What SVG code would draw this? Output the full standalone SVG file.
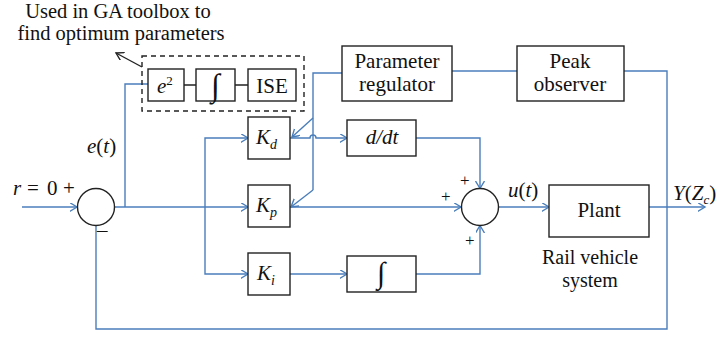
<svg xmlns="http://www.w3.org/2000/svg" width="722" height="337" viewBox="0 0 722 337">
<style>
.box{fill:#fff;stroke:#222;stroke-width:1.4}
.w{fill:none;stroke:#4a7ebb;stroke-width:1.4}
.k{fill:none;stroke:#222;stroke-width:1.4}
.m{font-style:italic}
.c{text-anchor:middle}
</style>
<defs>
<marker id="a" markerUnits="userSpaceOnUse" markerWidth="10" markerHeight="10" refX="7.5" refY="4.5" orient="auto">
<path d="M0,0 L7.5,4.5 L0,9" fill="none" stroke="#4a7ebb" stroke-width="1.4"/>
</marker>
<marker id="ak" markerUnits="userSpaceOnUse" markerWidth="10" markerHeight="10" refX="7.5" refY="4.5" orient="auto">
<path d="M0,0 L7.5,4.5 L0,9" fill="none" stroke="#222" stroke-width="1.4"/>
</marker>
</defs>
<rect width="722" height="337" fill="#fff"/>

<g id="connectors">
<path class="w" d="M22,207 H77" marker-end="url(#a)"/>
<path class="w" d="M114.5,207 H248" marker-end="url(#a)"/>
<path class="w" d="M125,207 V84 H148"/>
<path class="w" d="M205,207 V138 H248" marker-end="url(#a)"/>
<path class="w" d="M205,207 V274 H248" marker-end="url(#a)"/>
<path class="w" d="M290,138 H310 A3,3 0 0 1 316,138 H347" marker-end="url(#a)"/>
<path class="w" d="M290,207 H461" marker-end="url(#a)"/>
<path class="w" d="M290,274 H347" marker-end="url(#a)"/>
<path class="w" d="M416,138 H480 V188.5" marker-end="url(#a)"/>
<path class="w" d="M416,274 H480 V225.5" marker-end="url(#a)"/>
<path class="w" d="M498.5,207 H549" marker-end="url(#a)"/>
<path class="w" d="M649,207 H705" marker-end="url(#a)"/>
<path class="w" d="M342,73 H313 V190"/>
<path class="w" d="M313,190 L291,207" marker-end="url(#a)"/>
<path class="w" d="M313,118 L292,137" marker-end="url(#a)"/>
<path class="w" d="M452,71 H517"/>
<path class="w" d="M624,71 H667 V329 H96 V225.5"/>
<path class="k" d="M184,85 H196 M235,85 H248"/>
<path class="k" d="M142,67 L116,53" marker-end="url(#ak)"/>
</g>

<g font-family="Liberation Serif, Times New Roman, serif" font-size="21" fill="#111">
<g id="ga-group">
<rect x="142" y="56" width="162" height="55" fill="none" stroke="#222" stroke-width="1.4" stroke-dasharray="5,4"/>
</g>
<g id="ga-label">
<text class="c" x="118" y="18" font-size="20.5">Used in GA toolbox to</text>
<text class="c" x="121" y="40" font-size="20.5">find optimum parameters</text>
</g>
<g id="esq">
<rect class="box" x="148" y="69" width="36" height="32"/>
<text class="m" x="157" y="93">e<tspan font-style="normal" font-size="13" dy="-8">2</tspan></text>
</g>
<g id="int1">
<rect class="box" x="196" y="69" width="39" height="32"/>
<text class="c" x="215.5" y="96" font-size="32">∫</text>
</g>
<g id="ise">
<rect class="box" x="248" y="69" width="48" height="32"/>
<text class="c" x="272" y="93">ISE</text>
</g>
<g id="param-reg">
<rect class="box" x="342" y="46" width="110" height="55"/>
<text class="c" x="397" y="68">Parameter</text>
<text class="c" x="397" y="91">regulator</text>
</g>
<g id="peak-obs">
<rect class="box" x="517" y="46" width="107" height="55"/>
<text class="c" x="570" y="68">Peak</text>
<text class="c" x="570" y="91">observer</text>
</g>
<g id="sum1">
<circle class="box" cx="96" cy="207" r="18.5"/>
<text class="m" x="13" y="195">r</text>
<text x="27" y="195">=</text>
<text x="47" y="195">0</text>
<text x="63" y="195">+</text>
<text x="97" y="237">–</text>
<text class="m" x="87" y="153">e<tspan font-style="normal">(</tspan>t<tspan font-style="normal">)</tspan></text>
</g>
<g id="kd">
<rect class="box" x="248" y="117" width="42" height="42"/>
<text class="m" x="256" y="144">K<tspan font-size="14" dy="5">d</tspan></text>
</g>
<g id="kp">
<rect class="box" x="248" y="185" width="42" height="42"/>
<text class="m" x="256" y="212">K<tspan font-size="14" dy="5">p</tspan></text>
</g>
<g id="ki">
<rect class="box" x="248" y="253" width="42" height="42"/>
<text class="m" x="257" y="280">K<tspan font-size="14" dy="5">i</tspan></text>
</g>
<g id="ddt">
<rect class="box" x="347" y="120" width="69" height="36"/>
<text class="m c" x="382" y="144">d/dt</text>
</g>
<g id="int2">
<rect class="box" x="347" y="256" width="69" height="36"/>
<text class="c" x="381" y="283" font-size="30">∫</text>
</g>
<g id="sum2">
<circle class="box" cx="480" cy="207" r="18.5"/>
<text x="460" y="186" font-size="17">+</text>
<text x="441" y="202" font-size="17">+</text>
<text x="465" y="246" font-size="17">+</text>
<text class="m" x="508" y="197">u<tspan font-style="normal">(</tspan>t<tspan font-style="normal">)</tspan></text>
</g>
<g id="plant">
<rect class="box" x="549" y="185" width="100" height="52"/>
<text class="c" x="599" y="217">Plant</text>
<text class="c" x="590" y="264" font-size="20">Rail vehicle</text>
<text class="c" x="590" y="287" font-size="20">system</text>
</g>
<g id="output">
<text class="m" x="673" y="200">Y<tspan font-style="normal">(</tspan>Z<tspan font-size="13" dy="4">c</tspan><tspan font-style="normal" dy="-4">)</tspan></text>
</g>
</g>
</svg>
